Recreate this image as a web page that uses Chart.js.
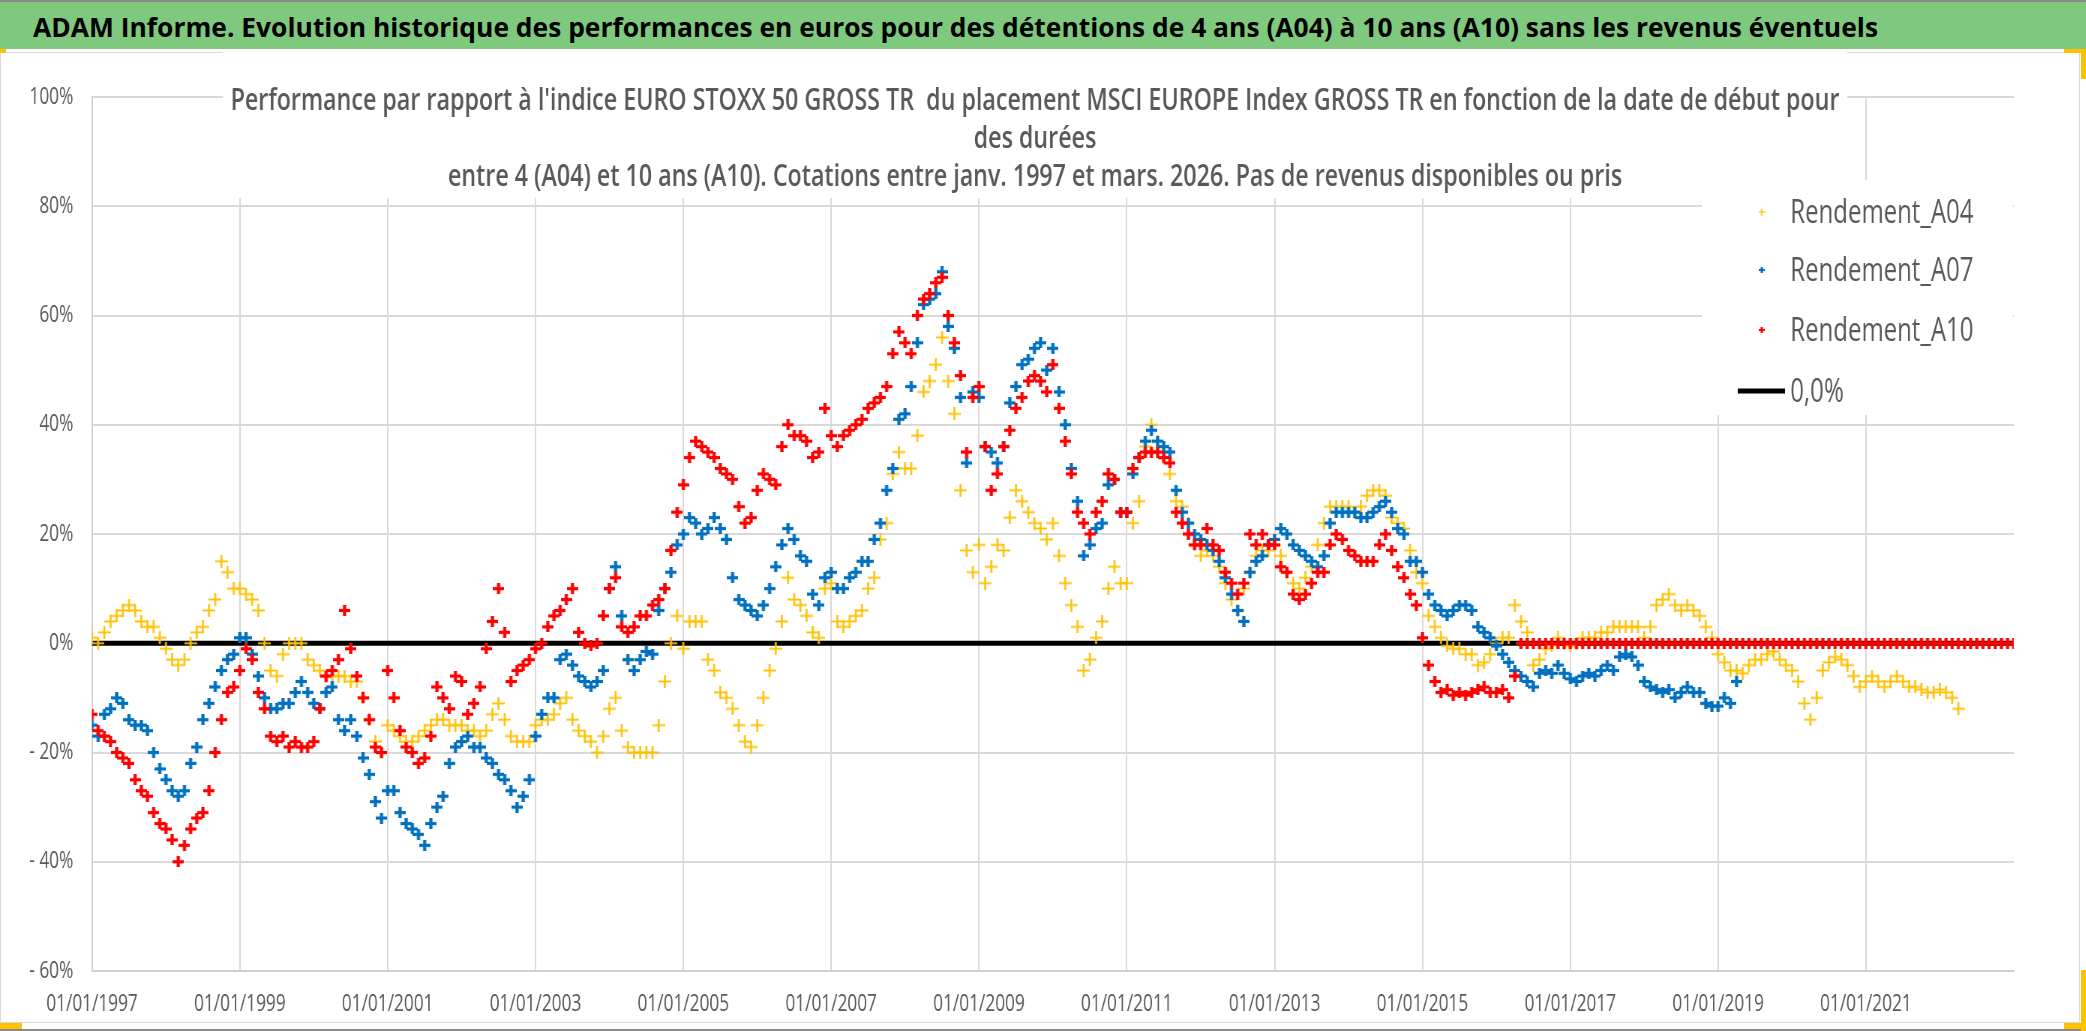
<!DOCTYPE html>
<html><head><meta charset="utf-8">
<script src="https://cdn.jsdelivr.net/npm/chart.js@4.4.1/dist/chart.umd.min.js"></script>
<style>
html,body{margin:0;padding:0;background:#fff;}
body{width:2086px;height:1031px;overflow:hidden;position:relative;font-family:"Open Sans",sans-serif;}
#topline{position:absolute;left:0;top:0;width:2086px;height:2px;background:#8a8a8a;}
#header{position:absolute;left:0;top:2px;width:2086px;height:47px;background:#7FC97F;overflow:hidden;}
#htitle{position:absolute;left:33px;top:1px;line-height:47px;font-weight:700;font-size:27px;color:#000;white-space:nowrap;transform-origin:0 50%;}
#frame{position:absolute;left:0;top:52px;width:2078px;height:969px;border:1px solid #d9d9d9;}
#wrap{position:absolute;left:0;top:52px;width:2781px;height:979px;transform:scaleX(0.75);transform-origin:0 0;}
#bottomline{position:absolute;left:0;top:1029px;width:2086px;height:2px;background:#8a8a8a;}
.h{position:absolute;background:#FFC000;}
</style></head>
<body>
<div id="topline"></div>
<div id="header"><span id="htitle">ADAM Informe. Evolution historique des performances en euros pour des détentions de 4 ans (A04) à 10 ans (A10) sans les revenus éventuels</span></div>
<div id="frame"></div>
<div id="wrap"><canvas id="c"></canvas></div>
<div id="bottomline"></div>
<div class="h" style="left:0;top:49px;width:6px;height:4px"></div>
<div class="h" style="left:2064px;top:49px;width:22px;height:4px"></div>
<div class="h" style="left:2081px;top:49px;width:5px;height:30px"></div>
<div class="h" style="left:0;top:1023px;width:22px;height:6px"></div>
<div class="h" style="left:2081px;top:970px;width:5px;height:61px"></div>
<div class="h" style="left:2064px;top:1023px;width:22px;height:6px"></div>
<script>
// ---- data (monthly observations, first value = January 1997) ----
const xStart = 1997;
const monthsPerYear = 12;

const rendementA04 = [
 1, 0, 2, 4, 5, 6, 7, 6, 4, 3, 3, 1,
 -1, -3, -4, -3, 0, 2, 3, 6, 8, 15, 13, 10,
 10, 9, 8, 6, 0, -5, -6, -2, 0, 0, 0, -3,
 -4, -5, -6, -6, -6, -6, -7, -7, -10, -14, -18, -20,
 -15, -16, -17, -18, -18, -17, -16, -15, -14, -14, -15, -15,
 -15, -16, -16, -17, -16, -13, -11, -14, -17, -18, -18, -18,
 -15, -14, -14, -13, -11, -10, -14, -16, -17, -18, -20, -17,
 -12, -10, -16, -19, -20, -20, -20, -20, -15, -7, 0, 5,
 -1, 4, 4, 4, -3, -5, -9, -10, -12, -15, -18, -19,
 -15, -10, -5, -1, 4, 12, 8, 7, 5, 2, 1, 10,
 11, 4, 3, 4, 5, 6, 10, 12, 19, 22, 31, 35,
 32, 32, 38, 46, 48, 51, 56, 48, 42, 28, 17, 13,
 18, 11, 14, 18, 17, 23, 28, 26, 24, 22, 21, 19,
 22, 16, 11, 7, 3, -5, -3, 1, 4, 10, 14, 11,
 11, 22, 26, 36, 40, 37, 34, 31, 26, 25, 22, 18,
 16, 17, 16, 14, 11, 8, 6, 10, 13, 16, 17, 17,
 18, 16, 13, 11, 10, 12, 14, 18, 22, 25, 25, 25,
 25, 24, 25, 27, 28, 28, 27, 23, 22, 21, 17, 13,
 11, 5, 3, 1, -0.5, -1, -1, -2, -2, -4, -3.5, -2,
 0, 1, 1, 7, 4, 2, -4, -3, -1, -0.5, 1, 0,
 -0.5, 0, 1, 1, 1, 2, 2, 3, 3, 3, 3, 3,
 1, 3, 7, 8, 9, 7, 6, 7, 6, 5, 3, 1,
 -2, -3.5, -5, -5, -5.5, -4, -3, -3, -2, -1.5, -3, -4,
 -5, -7, -11, -14, -10, -5, -3.5, -2.5, -3, -4, -6, -8,
 -7, -6, -7, -8, -7, -6, -7, -8, -8, -8.5, -9, -9,
 -8.5, -9, -10, -12
];

const rendementA07 = [
 -15, -17, -13, -12, -10, -11, -14, -15, -15, -16, -20, -23,
 -25, -27, -28, -27, -22, -19, -14, -11, -8, -5, -3, -2,
 1, 1, -2, -6, -10, -12, -12, -11, -11, -9, -7, -9,
 -11, -12, -9, -8, -14, -16, -14, -17, -21, -24, -29, -32,
 -27, -27, -31, -33, -34, -35, -37, -33, -30, -28, -22, -19,
 -18, -17, -19, -19, -21, -22, -24, -25, -27, -30, -28, -25,
 -17, -13, -10, -10, -3, -2, -4, -6, -7, -8, -7, -5,
 10, 14, 5, -3, -5, -3, -1.5, -2, 6, 10, 13, 18,
 20, 23, 22, 20, 21, 23, 21, 19, 12, 8, 7, 6,
 5, 7, 10, 14, 18, 21, 19, 16, 15, 9, 7, 12,
 13, 10, 10, 12, 13, 15, 15, 19, 22, 28, 32, 41,
 42, 47, 55, 62, 63, 64, 68, 58, 54, 45, 33, 46,
 45, 36, 35, 33, 36, 44, 47, 51, 52, 54, 55, 50,
 54, 46, 40, 32, 26, 16, 18, 21, 22, 29, 30, 24,
 24, 31, 34, 37, 39, 37, 36, 35, 28, 24, 22, 20,
 19, 18, 17, 15, 12, 9, 6, 4, 13, 15, 16, 18,
 19, 21, 20, 18, 17, 16, 15, 14, 16, 22, 24, 24,
 24, 24, 23, 23, 24, 25, 26, 24, 21, 20, 15, 15,
 13, 9, 7, 6, 5, 6, 7, 7, 6, 3, 2, 1,
 -0.5, -2, -3.5, -5, -6, -7, -8, -5.5, -5, -5.5, -4, -5.5,
 -6.5, -7, -6, -5.5, -6, -5, -4, -5, -2.5, -2, -2.5, -4,
 -7, -8, -8.5, -9, -8.5, -10, -9, -8, -9, -9, -11, -11.5,
 -11.5, -10, -11, -7
];

const rendementA10 = [
 -13, -16, -17, -18, -20, -21, -22, -25, -27, -28, -31, -33,
 -34, -36, -40, -37, -34, -32, -31, -27, -20, -14, -9, -8,
 -5, -1, -3, -9, -12, -17, -18, -17, -19, -18, -19, -19,
 -18, -12, -6, -5, -3, 6, -1, -6, -10, -14, -19, -20,
 -5, -10, -16, -19, -20, -22, -21, -17, -8, -10, -12, -6,
 -7, -13, -11, -8, -1, 4, 10, 2, -7, -5, -4, -3,
 -1, 0, 3, 5, 6, 8, 10, 2, 0, -0.5, 0, 5,
 10, 12, 3, 2, 3, 5, 5, 7, 8, 10, 17, 24,
 29, 34, 37, 36, 35, 34, 32, 31, 30, 25, 22, 23,
 28, 31, 30, 29, 36, 40, 38, 38, 37, 34, 35, 43,
 38, 36, 38, 39, 40, 41, 43, 44, 45, 47, 53, 57,
 55, 53, 60, 63, 64, 66, 67, 60, 55, 49, 35, 45,
 47, 36, 28, 31, 36, 39, 43, 45, 48, 49, 48, 46,
 51, 43, 37, 31, 24, 22, 20, 24, 26, 31, 30, 24,
 24, 32, 34, 35, 35, 35, 34, 33, 24, 22, 20, 18,
 18, 21, 18, 17, 13, 11, 9, 11, 20, 18, 20, 18,
 18, 14, 13, 9, 8, 9, 11, 13, 13, 18, 20, 19,
 17, 16, 15, 15, 15, 18, 20, 17, 14, 12, 9, 7,
 1, -4, -7, -9, -8.5, -9.5, -9, -9.5, -9, -8.5, -8, -9,
 -9, -8.5, -10, -6, 0, 0, 0, 0, 0, 0, 0, 0,
 0, 0, 0, 0, 0, 0, 0, 0, 0, 0, 0, 0,
 0, 0, 0, 0, 0, 0, 0, 0, 0, 0, 0, 0,
 0, 0, 0, 0, 0, 0, 0, 0, 0, 0, 0, 0,
 0, 0, 0, 0, 0, 0, 0, 0, 0, 0, 0, 0,
 0, 0, 0, 0, 0, 0, 0, 0, 0, 0, 0, 0,
 0, 0, 0, 0, 0, 0, 0, 0, 0, 0, 0, 0,
 0
];

const zeroLineX = [1997, 2023];
const zeroLineY = [0, 0];
const xTickYears = [1997, 1999, 2001, 2003, 2005, 2007, 2009, 2011, 2013, 2015, 2017, 2019, 2021];
const seriesNames = ['Rendement_A04', 'Rendement_A07', 'Rendement_A10', '0,0%'];
const titleLines = [
 "Performance par rapport à l'indice EURO STOXX 50 GROSS TR  du placement MSCI EUROPE Index GROSS TR en fonction de la date de début pour",
 "des durées",
 "entre 4 (A04) et 10 ans (A10). Cotations entre janv. 1997 et mars. 2026. Pas de revenus disponibles ou pris"
];

// ---- styling ----
const S = 0.75; // horizontal squeeze of the chart picture
const FONT = '"Open Sans", "Noto Sans", sans-serif';
const TXT = '#595959';
const colA04 = '#FFC000', colA07 = '#0070C0', colA10 = '#FF0000';

function crossImage(color, wReal, hReal, thick) {
  const c = document.createElement('canvas');
  const w = Math.round(wReal / S), h = Math.round(hReal);
  c.width = w; c.height = h;
  const g = c.getContext('2d');
  g.fillStyle = color;
  g.fillRect(0, (h - thick) / 2, w, thick);
  const tv = thick / S;
  g.fillRect((w - tv) / 2, 0, tv, h);
  return c;
}
const imgA04 = crossImage(colA04, 13, 13, 1.9);
const imgA07 = crossImage(colA07, 11, 11, 3.2);
const imgA10 = crossImage(colA10, 11, 11, 3.2);
const legA04 = crossImage(colA04, 7, 7, 1.3);
const legA07 = crossImage(colA07, 6, 6, 2.2);
const legA10 = crossImage(colA10, 6, 6, 2.2);

function toPoints(vals) { return vals.map((v, i) => ({ x: xStart + i / monthsPerYear, y: v })); }

const overlay = {
  id: 'overlay',
  afterDraw(chart) {
    const ctx = chart.ctx;
    ctx.save();
    // title box
    ctx.fillStyle = '#fff';
    ctx.fillRect(297, 0, 2166, 146);
    ctx.fillStyle = TXT;
    ctx.font = '600 31px ' + FONT;
    ctx.textAlign = 'center';
    ctx.textBaseline = 'alphabetic';
    titleLines.forEach((t, i) => ctx.fillText(t, 1380, 58 + i * 38));
    // legend box
    ctx.fillStyle = '#fff';
    ctx.fillRect(2269, 128, 415, 235);
    const rows = [160, 218, 278, 339];
    const imgs = [legA04, legA07, legA10];
    ctx.font = '500 32px ' + FONT;
    ctx.textAlign = 'left';
    for (let i = 0; i < 4; i++) {
      const y = rows[i];
      if (i < 3) {
        const im = imgs[i];
        ctx.drawImage(im, 2349 - im.width / 2, y - im.height / 2);
      } else {
        ctx.strokeStyle = '#000';
        ctx.lineWidth = 5;
        ctx.beginPath(); ctx.moveTo(2317, y); ctx.lineTo(2380, y); ctx.stroke();
      }
      ctx.fillStyle = TXT;
      ctx.fillText(seriesNames[i], 2387, y + 11);
    }
    ctx.restore();
  }
};

new Chart(document.getElementById('c'), {
  type: 'scatter',
  data: {
    datasets: [
      { label: seriesNames[0], data: toPoints(rendementA04), pointStyle: imgA04, pointRadius: 6, pointHoverRadius: 6, order: 2 },
      { label: seriesNames[1], data: toPoints(rendementA07), pointStyle: imgA07, pointRadius: 6, pointHoverRadius: 6, order: 1 },
      { label: seriesNames[2], data: toPoints(rendementA10), pointStyle: imgA10, pointRadius: 6, pointHoverRadius: 6, order: 0 },
      { type: 'line', label: seriesNames[3], data: zeroLineX.map((x, i) => ({ x: x, y: zeroLineY[i] })),
        borderColor: '#000', borderWidth: 5, pointRadius: 0, order: 3 }
    ]
  },
  options: {
    responsive: true, maintainAspectRatio: false, animation: false, events: [],
    layout: { padding: { left: 0, right: 96, top: 45, bottom: 0 } },
    plugins: { legend: { display: false }, title: { display: false }, tooltip: { enabled: false } },
    scales: {
      x: {
        type: 'linear', min: 1997, max: 2023,
        afterBuildTicks: s => { s.ticks = xTickYears.map(v => ({ value: v })); },
        afterFit: s => { s.height = 60; },
        grid: { color: '#d9d9d9', lineWidth: 2, drawTicks: false },
        border: { display: true, color: '#d0d0d0', width: 2 },
        ticks: { padding: 20, color: TXT, font: { family: FONT, size: 23 }, maxRotation: 0, autoSkip: false,
                 callback: v => '01/01/' + v }
      },
      y: {
        min: -60, max: 100,
        afterFit: s => { s.width = 122.7; },
        grid: { color: '#d9d9d9', lineWidth: 2, drawTicks: false },
        border: { display: true, color: '#d0d0d0', width: 2 },
        ticks: { stepSize: 20, padding: 25, color: TXT, font: { family: FONT, size: 23 },
                 callback: v => v < 0 ? '- ' + Math.abs(v) + '%' : v + '%' }
      }
    }
  },
  plugins: [overlay]
});

// fit header title width
(function () {
  const el = document.getElementById('htitle');
  const w = el.getBoundingClientRect().width;
  if (w > 0) el.style.transform = 'scaleX(' + (1845 / w) + ')';
})();
</script>
</body></html>
